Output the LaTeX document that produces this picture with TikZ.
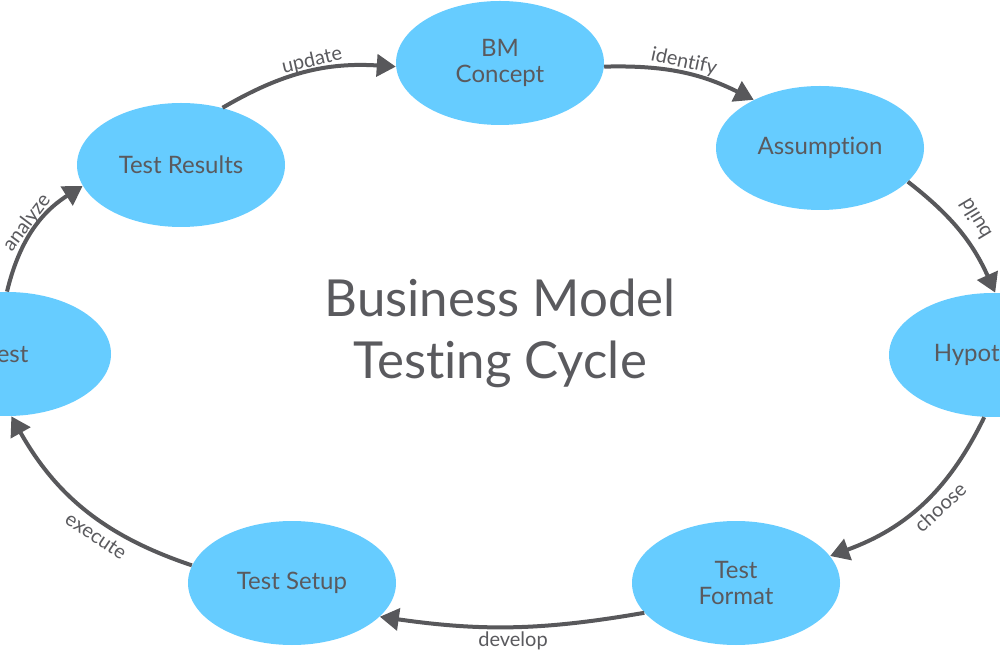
\documentclass[tikz,border=0pt]{standalone}
\usepackage{fontspec}
\setmainfont{Lato}[Ligatures={NoCommon}]
\usetikzlibrary{shapes.geometric,arrows.meta}
\definecolor{nodeblue}{HTML}{66CCFF}
\definecolor{inkgray}{HTML}{5A5A5E}
\definecolor{arrowgray}{HTML}{58585B}
\begin{document}
\begin{tikzpicture}[x=0.5pt,y=-0.5pt,
  stage/.style={ellipse, fill=nodeblue, draw=none, minimum width=104pt, minimum height=62pt, inner sep=0pt, text=inkgray, align=center, font=\fontsize{12}{13}\selectfont},
  flow/.style={draw=arrowgray, line width=2pt, -{Triangle[length=9.5pt,width=11pt]}},
  lbl/.style={text=inkgray, font=\fontsize{10}{12}\selectfont, inner sep=1pt},
  titletext/.style={text=inkgray, align=center, font=\fontsize{25.5}{31}\selectfont}]
\clip (0,0) rectangle (1000,667);
\fill[white] (0,0) rectangle (1000,667);
% stages
\node[stage] (bm) at (500,63) {BM\\Concept};
\node[stage] (as) at (820,148) {Assumption};
\node[stage] (hy) at (993,355) {Hypothesis};
\node[stage] (tf) at (736,583) {Test\\Format};
\node[stage] (ts) at (292,583) {Test Setup};
\node[stage] (te) at (7,354) {Test};
\node[stage] (tr) at (181,165) {Test Results};
% title
\node[titletext] (title) at (500,333) {Business Model\\Testing Cycle};
% connectors
\draw[flow] (tr.54) to[bend left=17] (bm.182);
\draw[flow] (bm.-2) to[bend left=14] (as.144);
\draw[flow] (as.-21) to[bend left=14] (hy.88);
\draw[flow] (hy.262) to[bend left=22] (tf.16);
\draw[flow] (tf.198) to[bend left=9] (ts.-21);
\draw[flow] (ts.170) to[bend left=21] (te.274);
\draw[flow] (te.90) to[bend left=22] (tr.192);
% labels
\node[lbl, rotate=13] (l-update) at (312,61) {update};
\node[lbl, rotate=-12] (l-identify) at (684,62) {identify};
\node[lbl, rotate=121] (l-build) at (975,219) {build};
\node[lbl, rotate=43] (l-choose) at (940,507) {choose};
\node[lbl] (l-develop) at (513,641) {develop};
\node[lbl, rotate=-34] (l-execute) at (96,536) {execute};
\node[lbl, rotate=53] (l-analyze) at (27,223) {analyze};
\end{tikzpicture}
\end{document}
